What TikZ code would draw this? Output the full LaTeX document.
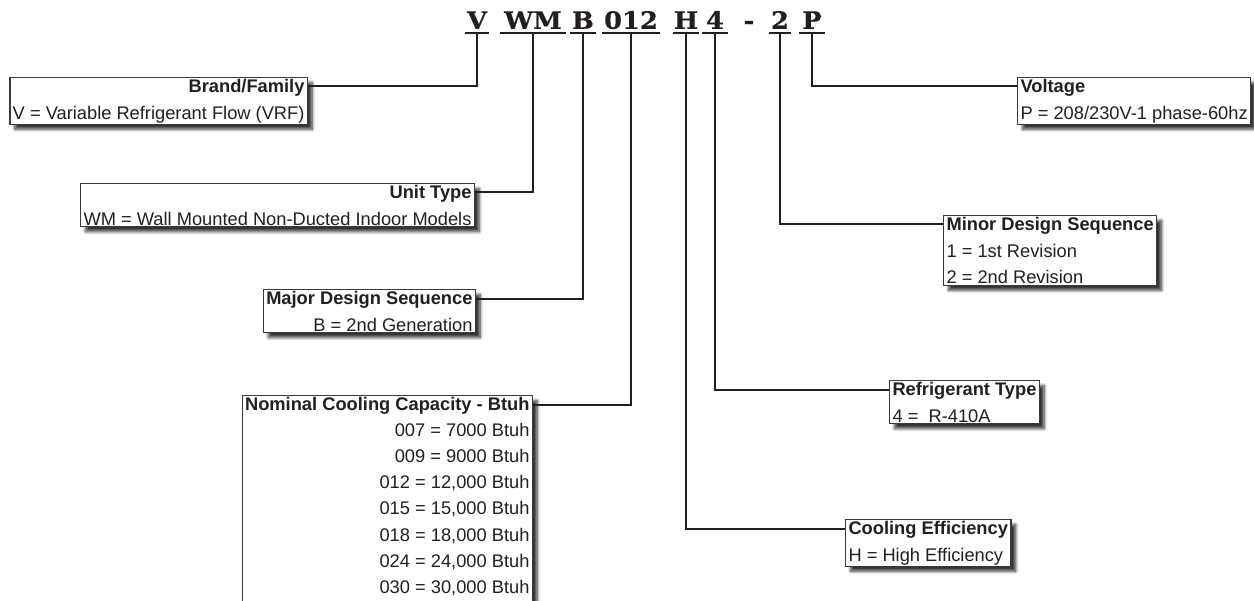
\documentclass[tikz,border=0pt]{standalone}
\usepackage{fontspec}
\setmainfont{Liberation Sans}
\newfontfamily\codefont{DejaVu Serif}[FakeStretch=1.08,FakeBold=0.5]
\usetikzlibrary{calc,shadows.blur}
\definecolor{inkgray}{HTML}{231F20}
\definecolor{boxgray}{HTML}{3A3A3A}
\tikzset{
  codetag/.style={font=\codefont\bfseries\fontsize{17}{19}\selectfont, text=inkgray,
    minimum width={#1*0.025cm}, inner xsep=0pt, inner ysep=2.8pt, text depth=0pt, anchor=south},
  codeline/.style={draw=inkgray, line width=1.4pt},
  tie/.style={draw=inkgray, line width=1.4pt},
  infobox/.style={draw=boxgray, line width=1pt, fill=white, text=inkgray,
    inner xsep=2pt, inner ysep=1pt, font=\fontsize{13}{19}\selectfont,
    blur shadow={shadow xshift=3.5pt, shadow yshift=-3.5pt, shadow blur steps=8, shadow opacity=80}},
  leftbox/.style={infobox, align=right, anchor=north east},
  rightbox/.style={infobox, align=left, anchor=north west},
}
\begin{document}
\begin{tikzpicture}[x=0.025cm, y=-0.025cm]
  \useasboundingbox (0,0) rectangle (1254,600);
  \node[codetag=24] (cV) at (477,33) {V};
  \node[codetag=66] (cWM) at (533,33) {WM};
  \node[codetag=25] (cB) at (583,33) {B};
  \node[codetag=58] (cCap) at (631,33) {012};
  \node[codetag=26] (cH) at (686,33) {H};
  \node[codetag=26] (cRef) at (715,33) {4};
  \node[codetag=10, inner ysep=0pt, anchor=base] (cDash) at (749,29) {-};
  \node[codetag=22] (cMin) at (780,33) {2};
  \node[codetag=25] (cP) at (812,33) {P};
  \foreach \c in {cV,cWM,cB,cCap,cH,cRef,cMin,cP}
    \draw[codeline] (\c.south west) -- (\c.south east);

  \node[leftbox] (brand) at (308,77) {\textbf{Brand/Family}\\V = Variable Refrigerant Flow (VRF)};
  \node[leftbox] (unit) at (475,183) {\textbf{Unit Type}\\WM = Wall Mounted Non-Ducted Indoor Models};
  \node[leftbox] (major) at (476,289) {\textbf{Major Design Sequence}\\B = 2nd Generation};
  \node[leftbox, font=\fontsize{13}{18.6}\selectfont] (capacity) at (533,395) {\textbf{Nominal Cooling Capacity - Btuh}\\007 = 7000 Btuh\\009 = 9000 Btuh\\012 = 12,000 Btuh\\015 = 15,000 Btuh\\018 = 18,000 Btuh\\024 = 24,000 Btuh\\030 = 30,000 Btuh\\[3pt]};
  \node[rightbox] (voltage) at (1017,77) {\textbf{Voltage}\\P = 208/230V-1 phase-60hz};
  \node[rightbox] (minor) at (943,215) {\textbf{Minor Design Sequence}\\1 = 1st Revision\\2 = 2nd Revision};
  \node[rightbox] (refrig) at (889,380) {\textbf{Refrigerant Type}\\4 =\ \ R-410A};
  \node[rightbox] (effic) at (845,519) {\textbf{Cooling Efficiency}\\H = High Efficiency};

  \draw[tie] (cV.south) |- ($(brand.north east)+(0,9)$);
  \draw[tie] (cWM.south) |- ($(unit.north east)+(0,9)$);
  \draw[tie] (cB.south) |- ($(major.north east)+(0,10)$);
  \draw[tie] (cCap.south) |- ($(capacity.north east)+(0,10)$);
  \draw[tie] (cH.south) |- ($(effic.north west)+(0,10)$);
  \draw[tie] (cRef.south) |- ($(refrig.north west)+(0,10)$);
  \draw[tie] (cMin.south) |- ($(minor.north west)+(0,9)$);
  \draw[tie] (cP.south) |- ($(voltage.north west)+(0,9)$);
\end{tikzpicture}
\end{document}
